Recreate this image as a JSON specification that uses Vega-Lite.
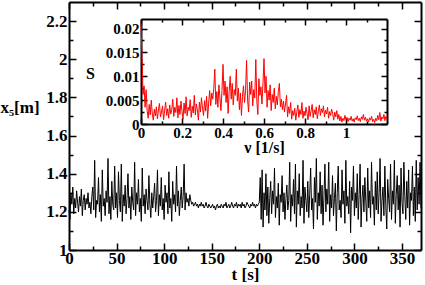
{
"$schema": "https://vega.github.io/schema/vega-lite/v6.json",
"padding": {"left": 0, "top": 1, "right": 3, "bottom": 0},
"background": "white",
"config": {
  "view": {"stroke": null},
  "axis": {"labelFont": "Liberation Serif, Times New Roman, serif", "labelFontWeight": "bold", "labelFontSize": 17, "labelColor": "black",
           "titleFont": "Liberation Serif, Times New Roman, serif", "titleFontWeight": "bold", "titleFontSize": 17, "titleColor": "black",
           "domainColor": "black", "domainWidth": 2, "tickColor": "black", "tickWidth": 1.5, "grid": false, "labelOverlap": false, "labelFlush": false, "labelBound": false}
},
"datasets": {
"main": [
{"t":0,"x":1.21},{"t":1,"x":1.16},{"t":2,"x":1.30},{"t":3,"x":1.24},{"t":4,"x":1.33},{"t":5,"x":1.19},{"t":6,"x":1.27},{"t":7,"x":1.22},{"t":8,"x":1.31},{"t":9,"x":1.25},
{"t":10,"x":1.20},{"t":11,"x":1.28},{"t":12,"x":1.23},{"t":13,"x":1.32},{"t":14,"x":1.18},{"t":15,"x":1.26},{"t":16,"x":1.29},{"t":17,"x":1.21},{"t":18,"x":1.27},{"t":19,"x":1.24},
{"t":20,"x":1.30},{"t":21,"x":1.22},{"t":22,"x":1.25},{"t":23,"x":1.19},{"t":24,"x":1.28},{"t":25,"x":1.33},{"t":26,"x":1.21},{"t":27,"x":1.47},{"t":28,"x":1.17},{"t":29,"x":1.26},
{"t":30,"x":1.24},{"t":31,"x":1.38},{"t":32,"x":1.20},{"t":33,"x":1.29},{"t":34,"x":1.15},{"t":35,"x":1.42},{"t":36,"x":1.23},{"t":37,"x":1.27},{"t":38,"x":1.18},{"t":39,"x":1.31},
{"t":40,"x":1.25},{"t":41,"x":1.48},{"t":42,"x":1.19},{"t":43,"x":1.28},{"t":44,"x":1.16},{"t":45,"x":1.36},{"t":46,"x":1.24},{"t":47,"x":1.21},{"t":48,"x":1.44},{"t":49,"x":1.22},
{"t":50,"x":1.30},{"t":51,"x":1.17},{"t":52,"x":1.41},{"t":53,"x":1.26},{"t":54,"x":1.20},{"t":55,"x":1.45},{"t":56,"x":1.15},{"t":57,"x":1.29},{"t":58,"x":1.23},{"t":59,"x":1.34},
{"t":60,"x":1.19},{"t":61,"x":1.27},{"t":62,"x":1.40},{"t":63,"x":1.22},{"t":64,"x":1.28},{"t":65,"x":1.16},{"t":66,"x":1.33},{"t":67,"x":1.25},{"t":68,"x":1.21},{"t":69,"x":1.46},
{"t":70,"x":1.18},{"t":71,"x":1.30},{"t":72,"x":1.24},{"t":73,"x":1.37},{"t":74,"x":1.20},{"t":75,"x":1.27},{"t":76,"x":1.15},{"t":77,"x":1.43},{"t":78,"x":1.23},{"t":79,"x":1.29},
{"t":80,"x":1.19},{"t":81,"x":1.32},{"t":82,"x":1.26},{"t":83,"x":1.21},{"t":84,"x":1.39},{"t":85,"x":1.24},{"t":86,"x":1.17},{"t":87,"x":1.30},{"t":88,"x":1.22},{"t":89,"x":1.28},
{"t":90,"x":1.35},{"t":91,"x":1.20},{"t":92,"x":1.26},{"t":93,"x":1.42},{"t":94,"x":1.18},{"t":95,"x":1.29},{"t":96,"x":1.23},{"t":97,"x":1.38},{"t":98,"x":1.21},{"t":99,"x":1.27},
{"t":100,"x":1.16},{"t":101,"x":1.34},{"t":102,"x":1.25},{"t":103,"x":1.30},{"t":104,"x":1.19},{"t":105,"x":1.41},{"t":106,"x":1.22},{"t":107,"x":1.27},{"t":108,"x":1.15},{"t":109,"x":1.36},
{"t":110,"x":1.24},{"t":111,"x":1.29},{"t":112,"x":1.20},{"t":113,"x":1.44},{"t":114,"x":1.23},{"t":115,"x":1.31},{"t":116,"x":1.18},{"t":117,"x":1.26},{"t":118,"x":1.33},{"t":119,"x":1.22},
{"t":120,"x":1.28},{"t":121,"x":1.45},{"t":122,"x":1.21},{"t":123,"x":1.30},{"t":124,"x":1.25},{"t":125,"x":1.27},{"t":126,"x":1.23},{"t":127,"x":1.29},{"t":128,"x":1.26},{"t":129,"x":1.24},
{"t":130,"x":1.25},{"t":131,"x":1.23},{"t":132,"x":1.24},{"t":133,"x":1.25},{"t":134,"x":1.23},{"t":135,"x":1.24},{"t":136,"x":1.22},{"t":137,"x":1.24},{"t":138,"x":1.23},{"t":139,"x":1.25},
{"t":140,"x":1.23},{"t":141,"x":1.24},{"t":142,"x":1.22},{"t":143,"x":1.23},{"t":144,"x":1.25},{"t":145,"x":1.23},{"t":146,"x":1.22},{"t":147,"x":1.24},{"t":148,"x":1.23},{"t":149,"x":1.22},
{"t":150,"x":1.23},{"t":151,"x":1.24},{"t":152,"x":1.22},{"t":153,"x":1.23},{"t":154,"x":1.21},{"t":155,"x":1.23},{"t":156,"x":1.24},{"t":157,"x":1.22},{"t":158,"x":1.23},{"t":159,"x":1.22},
{"t":160,"x":1.24},{"t":161,"x":1.23},{"t":162,"x":1.22},{"t":163,"x":1.24},{"t":164,"x":1.23},{"t":165,"x":1.25},{"t":166,"x":1.22},{"t":167,"x":1.23},{"t":168,"x":1.24},{"t":169,"x":1.22},
{"t":170,"x":1.23},{"t":171,"x":1.25},{"t":172,"x":1.23},{"t":173,"x":1.22},{"t":174,"x":1.24},{"t":175,"x":1.23},{"t":176,"x":1.25},{"t":177,"x":1.22},{"t":178,"x":1.24},{"t":179,"x":1.23},
{"t":180,"x":1.24},{"t":181,"x":1.22},{"t":182,"x":1.25},{"t":183,"x":1.23},{"t":184,"x":1.24},{"t":185,"x":1.22},{"t":186,"x":1.23},{"t":187,"x":1.25},{"t":188,"x":1.24},{"t":189,"x":1.23},
{"t":190,"x":1.22},{"t":191,"x":1.24},{"t":192,"x":1.23},{"t":193,"x":1.25},{"t":194,"x":1.23},{"t":195,"x":1.24},{"t":196,"x":1.22},{"t":197,"x":1.24},{"t":198,"x":1.23},{"t":199,"x":1.24},
{"t":200,"x":1.25},{"t":201,"x":1.38},{"t":202,"x":1.16},{"t":203,"x":1.42},{"t":204,"x":1.12},{"t":205,"x":1.30},{"t":206,"x":1.21},{"t":207,"x":1.40},{"t":208,"x":1.18},{"t":209,"x":1.33},
{"t":210,"x":1.14},{"t":211,"x":1.27},{"t":212,"x":1.36},{"t":213,"x":1.19},{"t":214,"x":1.31},{"t":215,"x":1.24},{"t":216,"x":1.43},{"t":217,"x":1.17},{"t":218,"x":1.28},{"t":219,"x":1.22},
{"t":220,"x":1.35},{"t":221,"x":1.13},{"t":222,"x":1.29},{"t":223,"x":1.25},{"t":224,"x":1.39},{"t":225,"x":1.20},{"t":226,"x":1.30},{"t":227,"x":1.16},{"t":228,"x":1.27},{"t":229,"x":1.34},
{"t":230,"x":1.21},{"t":231,"x":1.26},{"t":232,"x":1.46},{"t":233,"x":1.15},{"t":234,"x":1.29},{"t":235,"x":1.23},{"t":236,"x":1.37},{"t":237,"x":1.19},{"t":238,"x":1.45},{"t":239,"x":1.12},
{"t":240,"x":1.31},{"t":241,"x":1.24},{"t":242,"x":1.40},{"t":243,"x":1.18},{"t":244,"x":1.28},{"t":245,"x":1.22},{"t":246,"x":1.47},{"t":247,"x":1.14},{"t":248,"x":1.33},{"t":249,"x":1.26},
{"t":250,"x":1.20},{"t":251,"x":1.36},{"t":252,"x":1.17},{"t":253,"x":1.29},{"t":254,"x":1.43},{"t":255,"x":1.21},{"t":256,"x":1.27},{"t":257,"x":1.11},{"t":258,"x":1.38},{"t":259,"x":1.25},
{"t":260,"x":1.48},{"t":261,"x":1.16},{"t":262,"x":1.30},{"t":263,"x":1.23},{"t":264,"x":1.41},{"t":265,"x":1.19},{"t":266,"x":1.34},{"t":267,"x":1.13},{"t":268,"x":1.28},{"t":269,"x":1.45},
{"t":270,"x":1.20},{"t":271,"x":1.32},{"t":272,"x":1.24},{"t":273,"x":1.46},{"t":274,"x":1.15},{"t":275,"x":1.29},{"t":276,"x":1.22},{"t":277,"x":1.39},{"t":278,"x":1.18},{"t":279,"x":1.27},
{"t":280,"x":1.35},{"t":281,"x":1.10},{"t":282,"x":1.30},{"t":283,"x":1.44},{"t":284,"x":1.21},{"t":285,"x":1.26},{"t":286,"x":1.17},{"t":287,"x":1.42},{"t":288,"x":1.24},{"t":289,"x":1.31},
{"t":290,"x":1.14},{"t":291,"x":1.47},{"t":292,"x":1.23},{"t":293,"x":1.28},{"t":294,"x":1.19},{"t":295,"x":1.36},{"t":296,"x":1.09},{"t":297,"x":1.33},{"t":298,"x":1.26},{"t":299,"x":1.44},
{"t":300,"x":1.18},{"t":301,"x":1.30},{"t":302,"x":1.22},{"t":303,"x":1.40},{"t":304,"x":1.16},{"t":305,"x":1.29},{"t":306,"x":1.45},{"t":307,"x":1.12},{"t":308,"x":1.27},{"t":309,"x":1.34},
{"t":310,"x":1.20},{"t":311,"x":1.38},{"t":312,"x":1.25},{"t":313,"x":1.15},{"t":314,"x":1.43},{"t":315,"x":1.22},{"t":316,"x":1.31},{"t":317,"x":1.17},{"t":318,"x":1.46},{"t":319,"x":1.24},
{"t":320,"x":1.28},{"t":321,"x":1.13},{"t":322,"x":1.36},{"t":323,"x":1.21},{"t":324,"x":1.41},{"t":325,"x":1.19},{"t":326,"x":1.30},{"t":327,"x":1.48},{"t":328,"x":1.15},{"t":329,"x":1.26},
{"t":330,"x":1.33},{"t":331,"x":1.18},{"t":332,"x":1.44},{"t":333,"x":1.23},{"t":334,"x":1.11},{"t":335,"x":1.37},{"t":336,"x":1.27},{"t":337,"x":1.20},{"t":338,"x":1.45},{"t":339,"x":1.16},
{"t":340,"x":1.31},{"t":341,"x":1.24},{"t":342,"x":1.47},{"t":343,"x":1.14},{"t":344,"x":1.29},{"t":345,"x":1.39},{"t":346,"x":1.21},{"t":347,"x":1.34},{"t":348,"x":1.12},{"t":349,"x":1.43},
{"t":350,"x":1.25},{"t":351,"x":1.19},{"t":352,"x":1.46},{"t":353,"x":1.28},{"t":354,"x":1.16},{"t":355,"x":1.36},{"t":356,"x":1.22},{"t":357,"x":1.42},{"t":358,"x":1.13},{"t":359,"x":1.30},
{"t":360,"x":1.26},{"t":361,"x":1.44},{"t":362,"x":1.18},{"t":363,"x":1.33},{"t":364,"x":1.15},{"t":365,"x":1.47},{"t":366,"x":1.21},{"t":367,"x":1.38},{"t":368,"x":1.24},{"t":369,"x":1.46},
{"t":370,"x":1.22}
],
"spec": [
{"nu":0,"S":0.0210},{"nu":0.005,"S":0.0140},{"nu":0.01,"S":0.0062},{"nu":0.015,"S":0.0080},{"nu":0.02,"S":0.0035},{"nu":0.025,"S":0.0072},{"nu":0.03,"S":0.0028},{"nu":0.035,"S":0.0012},{"nu":0.04,"S":0.0041},{"nu":0.045,"S":0.0019},
{"nu":0.05,"S":0.0050},{"nu":0.055,"S":0.0022},{"nu":0.06,"S":0.0008},{"nu":0.065,"S":0.0031},{"nu":0.07,"S":0.0017},{"nu":0.075,"S":0.0036},{"nu":0.08,"S":0.0011},{"nu":0.085,"S":0.0029},{"nu":0.09,"S":0.0043},{"nu":0.095,"S":0.0015},
{"nu":0.1,"S":0.0025},{"nu":0.105,"S":0.0038},{"nu":0.11,"S":0.0009},{"nu":0.115,"S":0.0027},{"nu":0.12,"S":0.0046},{"nu":0.125,"S":0.0018},{"nu":0.13,"S":0.0032},{"nu":0.135,"S":0.0012},{"nu":0.14,"S":0.0040},{"nu":0.145,"S":0.0021},
{"nu":0.15,"S":0.0030},{"nu":0.155,"S":0.0052},{"nu":0.16,"S":0.0016},{"nu":0.165,"S":0.0035},{"nu":0.17,"S":0.0024},{"nu":0.175,"S":0.0055},{"nu":0.18,"S":0.0013},{"nu":0.185,"S":0.0039},{"nu":0.19,"S":0.0020},{"nu":0.195,"S":0.0048},
{"nu":0.2,"S":0.0026},{"nu":0.205,"S":0.0010},{"nu":0.21,"S":0.0044},{"nu":0.215,"S":0.0022},{"nu":0.22,"S":0.0057},{"nu":0.225,"S":0.0017},{"nu":0.23,"S":0.0035},{"nu":0.235,"S":0.0028},{"nu":0.24,"S":0.0051},{"nu":0.245,"S":0.0014},
{"nu":0.25,"S":0.0037},{"nu":0.255,"S":0.0023},{"nu":0.26,"S":0.0060},{"nu":0.265,"S":0.0019},{"nu":0.27,"S":0.0042},{"nu":0.275,"S":0.0030},{"nu":0.28,"S":0.0008},{"nu":0.285,"S":0.0046},{"nu":0.29,"S":0.0025},{"nu":0.295,"S":0.0055},
{"nu":0.3,"S":0.0033},{"nu":0.305,"S":0.0018},{"nu":0.31,"S":0.0049},{"nu":0.315,"S":0.0027},{"nu":0.32,"S":0.0058},{"nu":0.325,"S":0.0012},{"nu":0.33,"S":0.0044},{"nu":0.335,"S":0.0070},{"nu":0.34,"S":0.0038},{"nu":0.345,"S":0.0065},
{"nu":0.35,"S":0.0052},{"nu":0.355,"S":0.0075},{"nu":0.36,"S":0.0115},{"nu":0.365,"S":0.0041},{"nu":0.37,"S":0.0068},{"nu":0.375,"S":0.0035},{"nu":0.38,"S":0.0082},{"nu":0.385,"S":0.0055},{"nu":0.39,"S":0.0028},{"nu":0.395,"S":0.0070},
{"nu":0.4,"S":0.0125},{"nu":0.405,"S":0.0060},{"nu":0.41,"S":0.0090},{"nu":0.415,"S":0.0045},{"nu":0.42,"S":0.0078},{"nu":0.425,"S":0.0022},{"nu":0.43,"S":0.0068},{"nu":0.435,"S":0.0100},{"nu":0.44,"S":0.0052},{"nu":0.445,"S":0.0085},
{"nu":0.45,"S":0.0040},{"nu":0.455,"S":0.0072},{"nu":0.46,"S":0.0060},{"nu":0.465,"S":0.0115},{"nu":0.47,"S":0.0048},{"nu":0.475,"S":0.0075},{"nu":0.48,"S":0.0030},{"nu":0.485,"S":0.0065},{"nu":0.49,"S":0.0018},{"nu":0.495,"S":0.0058},
{"nu":0.5,"S":0.0080},{"nu":0.505,"S":0.0045},{"nu":0.51,"S":0.0070},{"nu":0.515,"S":0.0133},{"nu":0.52,"S":0.0050},{"nu":0.525,"S":0.0025},{"nu":0.53,"S":0.0088},{"nu":0.535,"S":0.0062},{"nu":0.54,"S":0.0090},{"nu":0.545,"S":0.0038},
{"nu":0.55,"S":0.0072},{"nu":0.555,"S":0.0055},{"nu":0.56,"S":0.0135},{"nu":0.565,"S":0.0048},{"nu":0.57,"S":0.0020},{"nu":0.575,"S":0.0095},{"nu":0.58,"S":0.0060},{"nu":0.585,"S":0.0078},{"nu":0.59,"S":0.0042},{"nu":0.595,"S":0.0085},
{"nu":0.6,"S":0.0137},{"nu":0.605,"S":0.0065},{"nu":0.61,"S":0.0100},{"nu":0.615,"S":0.0035},{"nu":0.62,"S":0.0070},{"nu":0.625,"S":0.0050},{"nu":0.63,"S":0.0082},{"nu":0.635,"S":0.0028},{"nu":0.64,"S":0.0062},{"nu":0.645,"S":0.0045},
{"nu":0.65,"S":0.0075},{"nu":0.655,"S":0.0032},{"nu":0.66,"S":0.0058},{"nu":0.665,"S":0.0040},{"nu":0.67,"S":0.0068},{"nu":0.675,"S":0.0085},{"nu":0.68,"S":0.0036},{"nu":0.685,"S":0.0052},{"nu":0.69,"S":0.0030},{"nu":0.695,"S":0.0048},
{"nu":0.7,"S":0.0025},{"nu":0.705,"S":0.0042},{"nu":0.71,"S":0.0060},{"nu":0.715,"S":0.0015},{"nu":0.72,"S":0.0036},{"nu":0.725,"S":0.0022},{"nu":0.73,"S":0.0045},{"nu":0.735,"S":0.0010},{"nu":0.74,"S":0.0028},{"nu":0.745,"S":0.0018},
{"nu":0.75,"S":0.0033},{"nu":0.755,"S":0.0008},{"nu":0.76,"S":0.0025},{"nu":0.765,"S":0.0040},{"nu":0.77,"S":0.0014},{"nu":0.775,"S":0.0030},{"nu":0.78,"S":0.0020},{"nu":0.785,"S":0.0045},{"nu":0.79,"S":0.0012},{"nu":0.795,"S":0.0027},
{"nu":0.8,"S":0.0017},{"nu":0.805,"S":0.0035},{"nu":0.81,"S":0.0022},{"nu":0.815,"S":0.0009},{"nu":0.82,"S":0.0038},{"nu":0.825,"S":0.0016},{"nu":0.83,"S":0.0028},{"nu":0.835,"S":0.0041},{"nu":0.84,"S":0.0013},{"nu":0.845,"S":0.0030},
{"nu":0.85,"S":0.0020},{"nu":0.855,"S":0.0036},{"nu":0.86,"S":0.0011},{"nu":0.865,"S":0.0026},{"nu":0.87,"S":0.0040},{"nu":0.875,"S":0.0018},{"nu":0.88,"S":0.0032},{"nu":0.885,"S":0.0024},{"nu":0.89,"S":0.0038},{"nu":0.895,"S":0.0015},
{"nu":0.9,"S":0.0029},{"nu":0.905,"S":0.0021},{"nu":0.91,"S":0.0035},{"nu":0.915,"S":0.0012},{"nu":0.92,"S":0.0026},{"nu":0.925,"S":0.0018},{"nu":0.93,"S":0.0031},{"nu":0.935,"S":0.0022},{"nu":0.94,"S":0.0008},{"nu":0.945,"S":0.0025},
{"nu":0.95,"S":0.0015},{"nu":0.955,"S":0.0028},{"nu":0.96,"S":0.0010},{"nu":0.965,"S":0.0020},{"nu":0.97,"S":0.0006},{"nu":0.975,"S":0.0016},{"nu":0.98,"S":0.0004},{"nu":0.985,"S":0.0012},{"nu":0.99,"S":0.0007},{"nu":0.995,"S":0.0018},
{"nu":1.0,"S":0.0009},{"nu":1.005,"S":0.0014},{"nu":1.01,"S":0.0005},{"nu":1.015,"S":0.0012},{"nu":1.02,"S":0.0008},{"nu":1.025,"S":0.0016},{"nu":1.03,"S":0.0006},{"nu":1.035,"S":0.0011},{"nu":1.04,"S":0.0004},{"nu":1.045,"S":0.0013},
{"nu":1.05,"S":0.0009},{"nu":1.055,"S":0.0017},{"nu":1.06,"S":0.0007},{"nu":1.065,"S":0.0012},{"nu":1.07,"S":0.0005},{"nu":1.075,"S":0.0015},{"nu":1.08,"S":0.0010},{"nu":1.085,"S":0.0020},{"nu":1.09,"S":0.0008},{"nu":1.095,"S":0.0014},
{"nu":1.1,"S":0.0006},{"nu":1.105,"S":0.0011},{"nu":1.11,"S":0.0004},{"nu":1.115,"S":0.0013},{"nu":1.12,"S":0.0008},{"nu":1.125,"S":0.0016},{"nu":1.13,"S":0.0005},{"nu":1.135,"S":0.0010},{"nu":1.14,"S":0.0003},{"nu":1.145,"S":0.0012},
{"nu":1.15,"S":0.0007},{"nu":1.155,"S":0.0018},{"nu":1.16,"S":0.0009},{"nu":1.165,"S":0.0024},{"nu":1.17,"S":0.0006},{"nu":1.175,"S":0.0015},{"nu":1.18,"S":0.0011},{"nu":1.185,"S":0.0020},{"nu":1.19,"S":0.0007},{"nu":1.195,"S":0.0016},
{"nu":1.2,"S":0.0010}
]
},
"width": 352,
"height": 248,
"layer": [
  {
    "layer": [
      {
        "data": {"name": "main"},
        "mark": {"type": "line", "color": "black", "strokeWidth": 1, "interpolate": "linear"},
        "encoding": {
          "x": {"field": "t", "type": "quantitative",
                "scale": {"domain": [0, 370], "nice": false, "zero": false},
                "axis": {"orient": "bottom", "title": "t [s]",
                         "values": [0,25,50,75,100,125,150,175,200,225,250,275,300,325,350],
                         "labelExpr": "datum.value % 50 === 0 ? datum.label : ''",
                         "tickSize": {"condition": {"test": "datum.value % 50 === 0", "value": -7}, "value": -4},
                         "labelPadding": 7, "titlePadding": -3}},
          "y": {"field": "x", "type": "quantitative",
                "scale": {"domain": [1, 2.3], "nice": false, "zero": false},
                "axis": {"orient": "left", "title": "x₅[m]",
                         "values": [1,1.1,1.2,1.3,1.4,1.5,1.6,1.7,1.8,1.9,2,2.1,2.2],
                         "format": "~g",
                         "labelExpr": "abs(datum.value*5 - round(datum.value*5)) < 0.001 ? datum.label : ''",
                         "tickSize": {"condition": {"test": "abs(datum.value*5 - round(datum.value*5)) < 0.001", "value": -7}, "value": -4},
                         "labelPadding": 9,
                         "titleAngle": 0, "titleAlign": "left", "titleBaseline": "middle", "titleX": -69, "titleY": 105}}
        }
      },
      {
        "data": {"name": "main"},
        "mark": {"type": "line", "strokeOpacity": 0},
        "encoding": {
          "x": {"field": "t", "type": "quantitative",
                "axis": {"orient": "top", "title": null, "labels": false,
                         "values": [0,25,50,75,100,125,150,175,200,225,250,275,300,325,350],
                         "tickSize": {"condition": {"test": "datum.value % 50 === 0", "value": -7}, "value": -4}}},
          "y": {"field": "x", "type": "quantitative",
                "axis": {"orient": "right", "title": null, "labels": false,
                         "values": [1,1.1,1.2,1.3,1.4,1.5,1.6,1.7,1.8,1.9,2,2.1,2.2],
                         "tickSize": {"condition": {"test": "abs(datum.value*5 - round(datum.value*5)) < 0.001", "value": -7}, "value": -4}}}
        }
      }
    ],
    "resolve": {"axis": {"x": "independent", "y": "independent"}}
  },
  {
    "layer": [
      {
        "data": {"name": "spec"},
        "mark": {"type": "line", "color": "#ff0000", "strokeWidth": 1},
        "encoding": {
          "x": {"field": "nu", "type": "quantitative",
                "scale": {"domain": [0, 1.2], "nice": false, "zero": false, "range": [72, 318]},
                "axis": {"orient": "bottom", "offset": -126, "title": "ν  [1/s]",
                         "values": [0,0.1,0.2,0.3,0.4,0.5,0.6,0.7,0.8,0.9,1,1.1],
                         "format": "~g",
                         "labelExpr": "abs(datum.value*5 - round(datum.value*5)) < 0.001 ? datum.label : ''",
                         "tickSize": {"condition": {"test": "abs(datum.value*5 - round(datum.value*5)) < 0.001", "value": -6}, "value": -3},
                         "labelPadding": 7, "titlePadding": -4, "labelFontSize": 15, "titleFontSize": 16}},
          "y": {"field": "S", "type": "quantitative",
                "scale": {"domain": [0, 0.022], "nice": false, "zero": false, "range": [122, 17]},
                "axis": {"orient": "left", "offset": -72, "title": "S",
                         "values": [0,0.0025,0.005,0.0075,0.01,0.0125,0.015,0.0175,0.02],
                         "format": "~g",
                         "labelExpr": "abs(datum.value*200 - round(datum.value*200)) < 0.001 ? datum.label : ''",
                         "tickSize": {"condition": {"test": "abs(datum.value*200 - round(datum.value*200)) < 0.001", "value": -6}, "value": -3},
                         "labelPadding": 8, "labelFontSize": 15, "titleFontSize": 16,
                         "titleAngle": 0, "titleAlign": "center", "titleBaseline": "middle", "titleX": -51, "titleY": 71}}
        }
      },
      {
        "data": {"name": "spec"},
        "mark": {"type": "line", "strokeOpacity": 0},
        "encoding": {
          "x": {"field": "nu", "type": "quantitative",
                "axis": {"orient": "top", "offset": -17, "title": null, "labels": false,
                         "values": [0,0.1,0.2,0.3,0.4,0.5,0.6,0.7,0.8,0.9,1,1.1],
                         "tickSize": {"condition": {"test": "abs(datum.value*5 - round(datum.value*5)) < 0.001", "value": -6}, "value": -3}}},
          "y": {"field": "S", "type": "quantitative",
                "axis": {"orient": "right", "offset": -34, "title": null, "labels": false,
                         "values": [0,0.0025,0.005,0.0075,0.01,0.0125,0.015,0.0175,0.02],
                         "tickSize": {"condition": {"test": "abs(datum.value*200 - round(datum.value*200)) < 0.001", "value": -6}, "value": -3}}}
        }
      }
    ],
    "resolve": {"axis": {"x": "independent", "y": "independent"}}
  }
],
"resolve": {"scale": {"x": "independent", "y": "independent"}, "axis": {"x": "independent", "y": "independent"}}
}
